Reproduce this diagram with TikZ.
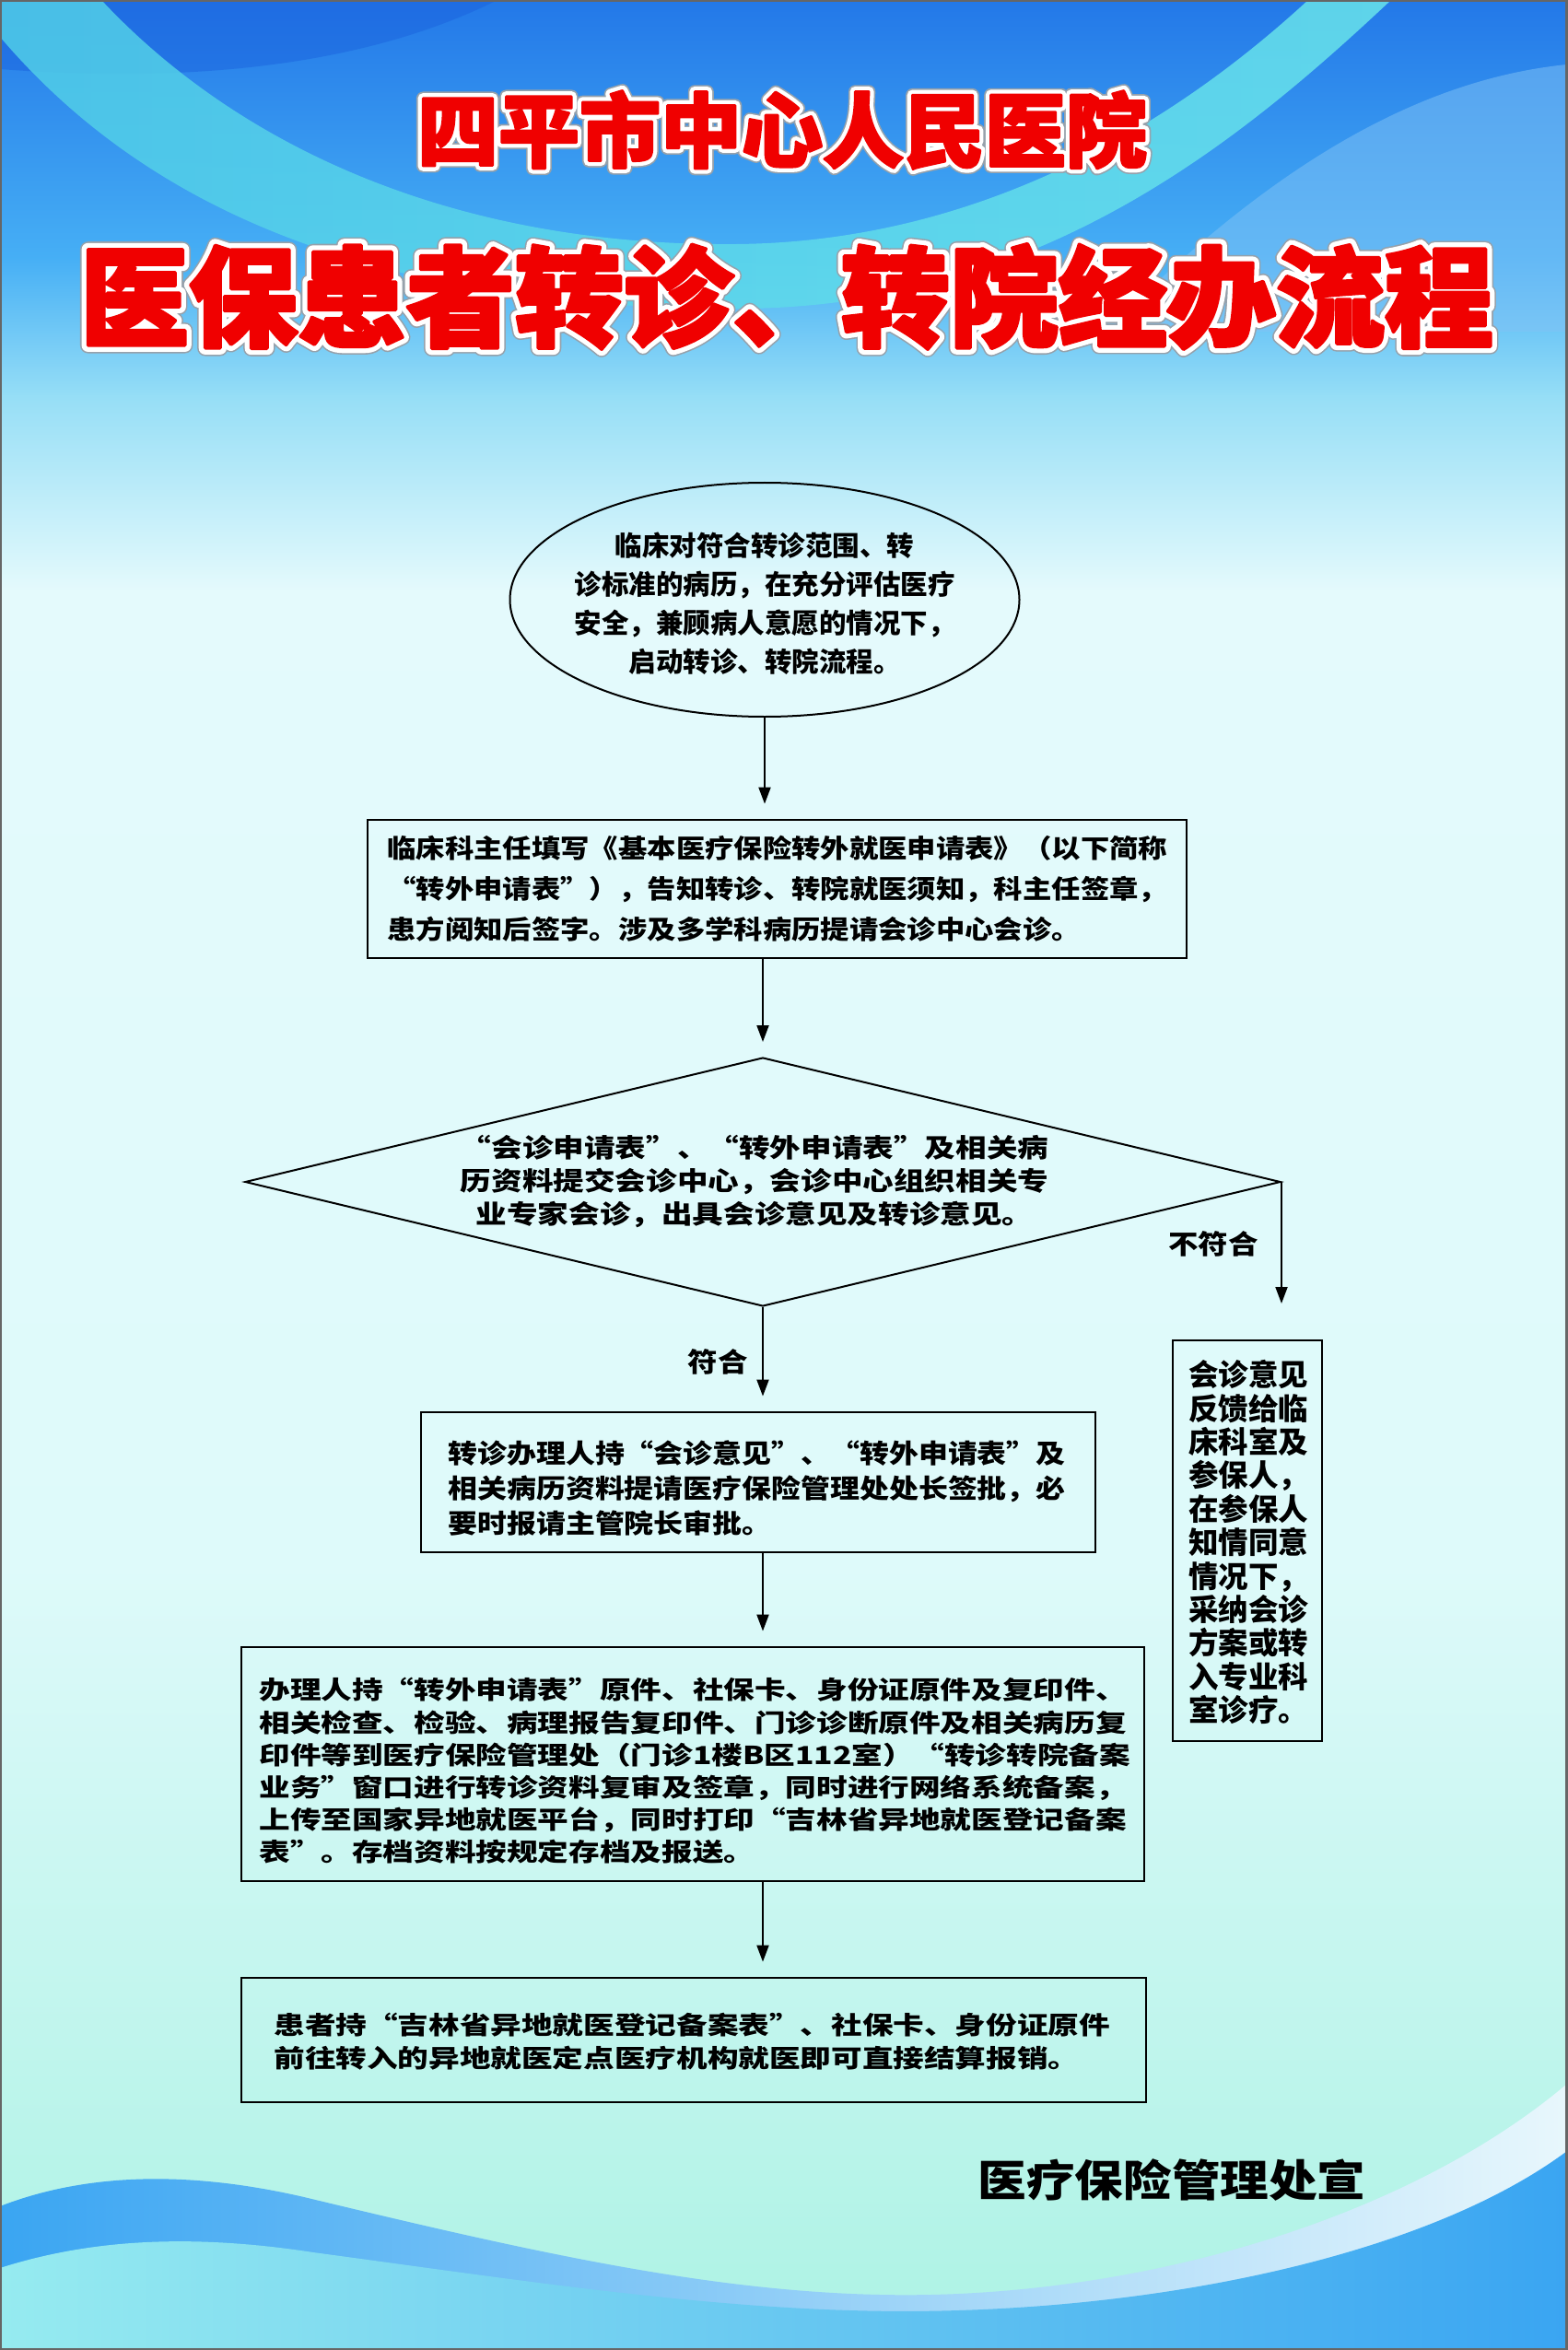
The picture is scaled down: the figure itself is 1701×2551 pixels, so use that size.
\documentclass[tikz,border=0pt]{standalone}
\usepackage{fontspec}
\newfontfamily\cjkA{Noto Sans CJK SC}
\newfontfamily\cjkB{Noto Sans CJK SC}[FakeStretch=1.12]
\newfontfamily\cjkC{Noto Sans CJK SC}[FakeStretch=1.2]
\newfontfamily\cjkD{Noto Sans CJK SC}[FakeStretch=1.245]
\usetikzlibrary{arrows.meta,shapes.geometric}

\definecolor{bgA}{RGB}{35,120,232}
\definecolor{bgB}{RGB}{70,175,245}
\definecolor{bgC}{RGB}{150,222,246}
\definecolor{bgD}{RGB}{228,250,252}
\definecolor{bgE}{RGB}{222,250,250}
\definecolor{bgF}{RGB}{172,242,228}
\definecolor{tdark}{RGB}{25,95,220}
\definecolor{tealL}{RGB}{80,205,232}
\definecolor{tealM}{RGB}{115,235,228}
\definecolor{tealR}{RGB}{105,228,235}
\definecolor{tlight}{RGB}{130,195,245}
\definecolor{wblue}{RGB}{58,165,242}
\definecolor{wmid}{RGB}{95,205,240}
\definecolor{wwhite}{RGB}{232,247,252}
\definecolor{lband}{RGB}{150,235,240}
\definecolor{lbandm}{RGB}{110,210,240}
\definecolor{tred}{RGB}{240,0,0}
\definecolor{tgray}{RGB}{150,160,170}

% text drawn with a stroked outline (PDF text render mode 2)
\newcommand\strokedtext[3]{\special{pdf:literal direct q 1 j #1 RG #2 w 2 Tr}#3\special{pdf:literal direct Q}}
\newcommand\titleonetext{\cjkA\bfseries\fontsize{44}{48}\selectfont 四平市中心人民医院}
\newcommand\titletwotext{\cjkA\bfseries\fontsize{59}{64}\selectfont 医保患者转诊、转院经办流程}

\begin{document}
\begin{tikzpicture}[x=0.5pt,y=-0.5pt,
  boxstyle/.style={draw=black, line width=1.4pt, rectangle, inner sep=0pt},
  txtstyle/.style={inner sep=0pt, align=left, anchor=north west, text=black},
  arrstyle/.style={draw=black, line width=1pt, -{Triangle[length=9pt,width=6.5pt]}, shorten >=8pt},
  lblstyle/.style={inner sep=0pt, font=\cjkB\bfseries\fontsize{14.5}{16}\selectfont},
  ttl/.style={inner sep=0pt}]
\useasboundingbox (0,0) rectangle (1701,2551);

% ---------- background ----------
\shade[top color=bgA, bottom color=bgB] (0,0) rectangle (1701,281);
\shade[top color=bgB, bottom color=bgC] (0,280) rectangle (1701,431);
\shade[top color=bgC, bottom color=bgD] (0,430) rectangle (1701,641);
\shade[top color=bgD, bottom color=bgE] (0,640) rectangle (1701,1701);
\shade[top color=bgE, bottom color=bgF] (0,1700) rectangle (1701,2551);

\fill[tdark, opacity=0.45] (0,0) -- (540,0) .. controls (430,55) and (260,95) .. (0,75) -- cycle;
\fill[tlight, opacity=0.5] (1701,70) .. controls (1500,90) and (1330,230) .. (1200,360) -- (1701,360) -- cycle;
\shade[left color=tealL, middle color=tealM, right color=tealR, opacity=0.85]
  (0,40) .. controls (170,240) and (430,335) .. (800,335)
  .. controls (1130,335) and (1350,150) .. (1510,0) -- (1420,0)
  .. controls (1290,120) and (1080,262) .. (800,265)
  .. controls (480,268) and (250,150) .. (110,0) -- (0,0) -- cycle;

\shade[left color=wblue, middle color=wmid, right color=wwhite]
  (0,2395) .. controls (90,2360) and (200,2355) .. (330,2385)
  .. controls (600,2450) and (820,2500) .. (1040,2490)
  .. controls (1300,2478) and (1550,2390) .. (1701,2262)
  -- (1701,2551) -- (0,2551) -- cycle;
\shade[left color=lband, middle color=lbandm, right color=wblue]
  (0,2462) .. controls (100,2430) and (210,2425) .. (340,2445)
  .. controls (600,2480) and (820,2515) .. (1040,2508)
  .. controls (1300,2500) and (1560,2440) .. (1701,2335)
  -- (1701,2551) -- (0,2551) -- cycle;
\draw[black!60, line width=2pt] (0,0) rectangle (1701,2551);

% ---------- titles (grey rim, white outline, red fill) ----------
\node[ttl, text=tgray] (T1g) at (849,141) {\strokedtext{0.59 0.63 0.67}{7.2}{\titleonetext}};
\node[ttl, text=white] (T1w) at (849,141) {\strokedtext{1 1 1}{5.6}{\titleonetext}};
\node[ttl, text=tred]  (T1)  at (849,141) {\strokedtext{0.94 0 0}{1.3}{\titleonetext}};
\node[ttl, text=tgray] (T2g) at (854,322) {\strokedtext{0.59 0.63 0.67}{8.6}{\titletwotext}};
\node[ttl, text=white] (T2w) at (854,322) {\strokedtext{1 1 1}{7}{\titletwotext}};
\node[ttl, text=tred]  (T2)  at (854,322) {\strokedtext{0.94 0 0}{1.8}{\titletwotext}};

% ---------- flowchart ----------
\node[draw=black, ellipse, line width=1pt, minimum width=276.5pt, minimum height=127pt, inner sep=0pt] (E) at (830,651) {};
\node[inner sep=0pt, align=center, font=\cjkA\bfseries\fontsize{14.75}{21}\selectfont] (Et) at (830,655)
  {临床对符合转诊范围、转\\诊标准的病历，在充分评估医疗\\安全，兼顾病人意愿的情况下，\\启动转诊、转院流程。};

\node[boxstyle, minimum width=444.5pt, minimum height=75pt] (B1) at (843.5,965) {};
\node[txtstyle, font=\cjkB\bfseries\fontsize{14}{22}\selectfont] (B1t) at (420,907)
  {临床科主任填写《基本医疗保险转外就医申请表》（以下简称\\“转外申请表”），告知转诊、转院就医须知，科主任签章，\\患方阅知后签字。涉及多学科病历提请会诊中心会诊。};

\node[draw=black, diamond, line width=1pt, minimum width=562pt, minimum height=135pt, inner sep=0pt, aspect=4.16] (D) at (828,1283) {};
\node[inner sep=0pt, align=center, font=\cjkC\bfseries\fontsize{14}{18}\selectfont] (Dt) at (819,1283)
  {“会诊申请表”、“转外申请表”及相关病\\历资料提交会诊中心，会诊中心组织相关专\\业专家会诊，出具会诊意见及转诊意见。};

\node[boxstyle, minimum width=366pt, minimum height=76pt] (B3) at (823,1609) {};
\node[txtstyle, font=\cjkB\bfseries\fontsize{14.25}{19}\selectfont] (B3t) at (486,1563)
  {转诊办理人持“会诊意见”、“转外申请表”及\\相关病历资料提请医疗保险管理处处长签批，必\\要时报请主管院长审批。};

\node[boxstyle, minimum width=490pt, minimum height=127pt] (B4) at (752,1915) {};
\node[txtstyle, font=\cjkD\bfseries\fontsize{13.5}{17.6}\selectfont] (B4t) at (281,1821)
  {办理人持“转外申请表”原件、社保卡、身份证原件及复印件、\\相关检查、检验、病理报告复印件、门诊诊断原件及相关病历复\\印件等到医疗保险管理处（门诊1楼B区112室）“转诊转院备案\\业务”窗口进行转诊资料复审及签章，同时进行网络系统备案，\\上传至国家异地就医平台，同时打印“吉林省异地就医登记备案\\表”。存档资料按规定存档及报送。};

\node[boxstyle, minimum width=491pt, minimum height=67.5pt] (B5) at (753,2214.5) {};
\node[txtstyle, font=\cjkD\bfseries\fontsize{13.5}{18}\selectfont] (B5t) at (297,2185)
  {患者持“吉林省异地就医登记备案表”、社保卡、身份证原件\\前往转入的异地就医定点医疗机构就医即可直接结算报销。};

\node[boxstyle, minimum width=81pt, minimum height=217.5pt] (R) at (1354,1672.5) {};
\node[txtstyle, font=\cjkA\bfseries\fontsize{16.25}{18.2}\selectfont] (Rt) at (1290,1476)
  {会诊意见\\反馈给临\\床科室及\\参保人，\\在参保人\\知情同意\\情况下，\\采纳会诊\\方案或转\\入专业科\\室诊疗。};

% connectors
\coordinate (nf) at (1388,1415);
\draw[arrstyle] (E.south) -- (E.south |- B1.north);
\draw[arrstyle] (D.north |- B1.south) -- (D.north);
\draw[arrstyle] (D.south) -- (D.south |- B3.north);
\draw[arrstyle] (D.south |- B3.south) -- (D.south |- B4.north);
\draw[arrstyle] (D.south |- B4.south) -- (D.south |- B5.north);
\draw[arrstyle, shorten >=0pt] (D.east) -- (D.east |- nf);

\node[lblstyle] (L1) at (779,1478) {符合};
\node[lblstyle] (L2) at (1317,1350) {不符合};

\node[inner sep=0pt, font=\cjkB\bfseries\fontsize{23.5}{26}\selectfont] (F) at (1272,2366) {医疗保险管理处宣};
\end{tikzpicture}
\end{document}
